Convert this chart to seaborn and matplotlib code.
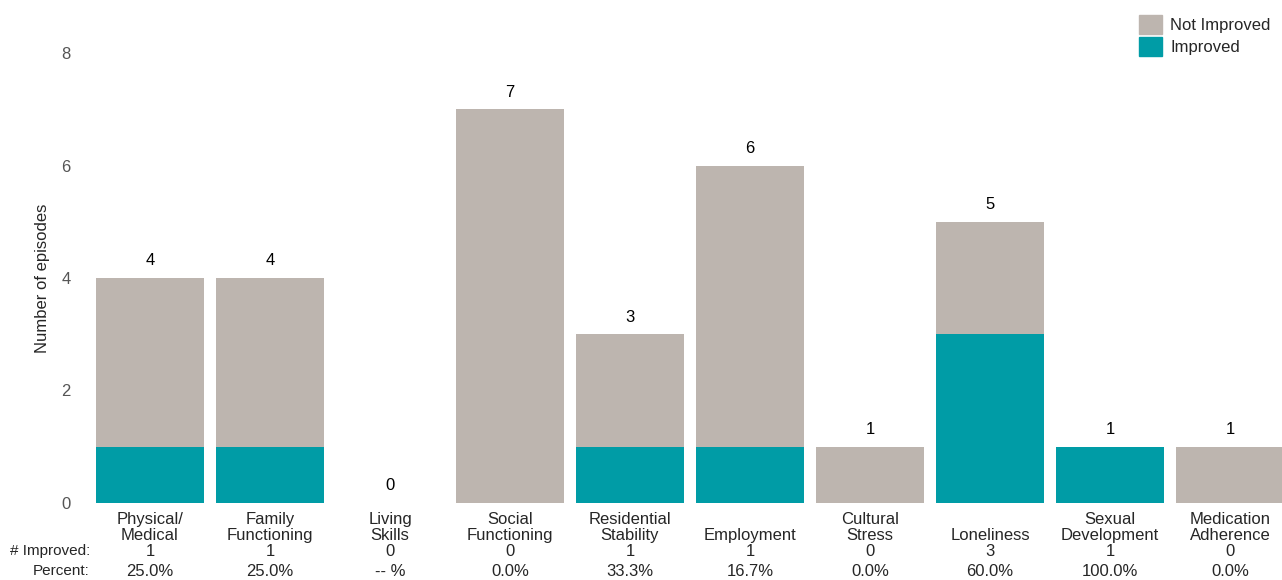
import seaborn as sns
import matplotlib.pyplot as plt
import matplotlib.transforms as mtransforms
from matplotlib.patches import Patch

categories = ["Physical/\nMedical", "Family\nFunctioning", "Living\nSkills", "Social\nFunctioning",
              "Residential\nStability", "Employment", "Cultural\nStress", "Loneliness",
              "Sexual\nDevelopment", "Medication\nAdherence"]
total = [4, 4, 0, 7, 3, 6, 1, 5, 1, 1]
improved = [1, 1, 0, 0, 1, 1, 0, 3, 1, 0]
percent = ["25.0%", "25.0%", "-- %", "0.0%", "33.3%", "16.7%", "0.0%", "60.0%", "100.0%", "0.0%"]

grey = "#bdb5af"
teal = "#009ca6"

sns.set_style("white")
plt.rcParams['font.family'] = ['Liberation Sans', 'DejaVu Sans']
fs = 12

fig = plt.figure(figsize=(12.82, 5.8), dpi=100)
ax = fig.add_axes([90 / 1282, 77 / 580, 1200 / 1282, 450 / 580])

x = list(range(len(categories)))
sns.barplot(x=x, y=total, color=grey, width=0.9, saturation=1, linewidth=0, ax=ax)
sns.barplot(x=x, y=improved, color=teal, width=0.9, saturation=1, linewidth=0, ax=ax)

# value labels on top
for i, v in enumerate(total):
    ax.annotate(str(v), (i, v), xytext=(0, 7), textcoords="offset points",
                ha="center", va="bottom", fontsize=fs, color="black")

ax.set_xlim(-0.5, 9.5)
ax.set_ylim(0, 8)
ax.set_yticks([0, 2, 4, 6, 8])
ax.tick_params(axis="y", length=0, labelsize=fs, labelcolor="#555555", pad=14)
ax.set_xticks(x)
ax.set_xticklabels([])
ax.tick_params(axis="x", length=0)
ax.set_ylabel("Number of episodes", fontsize=fs, labelpad=8)
sns.despine(ax=ax, left=True, bottom=True)

# category labels (bottom aligned) and table rows under them
trans = mtransforms.blended_transform_factory(ax.transData, fig.transFigure)
for i in x:
    ax.text(i, 1 - 543 / 580, categories[i], transform=trans, ha="center", va="bottom",
            fontsize=fs, linespacing=1.12)
    ax.text(i, 1 - 551 / 580, str(improved[i]), transform=trans, ha="center", va="center", fontsize=fs)
    ax.text(i, 1 - 571 / 580, percent[i], transform=trans, ha="center", va="center", fontsize=fs)
fig.text(90 / 1282, 1 - 551 / 580, "# Improved:", ha="right", va="center", fontsize=11)
fig.text(90 / 1282, 1 - 571 / 580, "Percent:", ha="right", va="center", fontsize=11)

handles = [Patch(color=grey, label="Not Improved"), Patch(color=teal, label="Improved")]
fig.legend(handles=handles, loc="upper right", bbox_to_anchor=(1.003, 1.0), frameon=False,
           fontsize=fs, handlelength=1.4, handleheight=1.4, handletextpad=0.5, labelspacing=0.15)

fig.savefig("out.png", dpi=100)
